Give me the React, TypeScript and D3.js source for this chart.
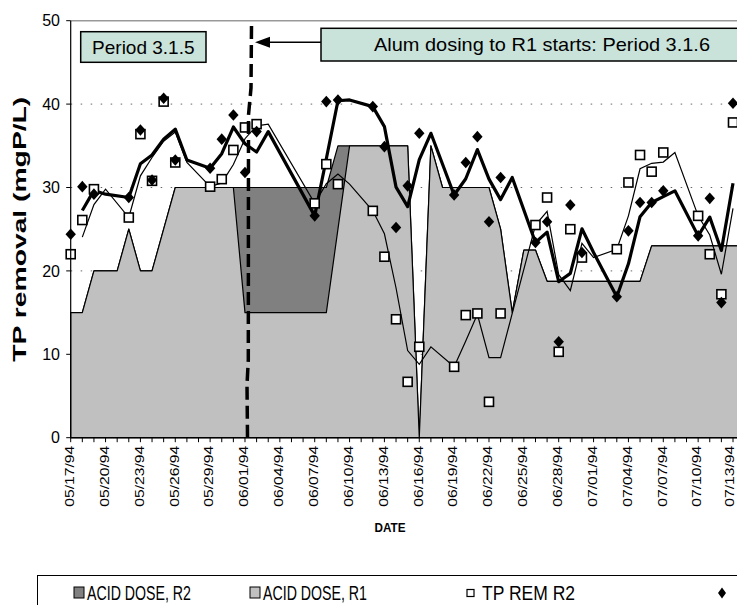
import React from 'react';
import * as d3 from 'd3';

const W = 737;
const H = 605;
const FONT = 'Liberation Sans, Arial, sans-serif';

// sampling days (1994)
const sampleDates = [
  '05/17', '05/18', '05/19', '05/22', '05/23', '05/24', '05/25', '05/26', '05/29', '05/30',
  '05/31', '06/01', '06/02', '06/07', '06/08', '06/09', '06/12', '06/13', '06/14', '06/15',
  '06/16', '06/19', '06/20', '06/21', '06/22', '06/23', '06/26', '06/27', '06/28', '06/29',
  '06/30', '07/03', '07/04', '07/05', '07/06', '07/07', '07/10', '07/11', '07/12', '07/13'
];
// TP REM R1 (diamonds)
const tpRemR1 = [
  24.4, 30.1, 29.2, 28.8, 36.9, 30.9, 40.7, 33.3, 32.3, 35.8,
  38.7, 31.8, 36.7, 26.6, 40.3, 40.5, 39.7, 34.9, 25.2, 30.2,
  36.5, 29.1, 33.0, 36.1, 25.9, 31.2, 23.4, 25.9, 11.5, 27.9,
  22.2, 16.9, 24.8, 28.2, 28.2, 29.6, 24.2, 28.7, 16.2, 40.1
];
// TP REM R2 (squares)
const tpRemR2 = [
  22.0, 26.1, 29.8, 26.4, 36.4, 30.8, 40.3, 33.0, 30.1, 31.0,
  34.5, 37.2, 37.6, 28.1, 32.8, 30.4, 27.2, 21.7, 14.2, 6.7,
  10.9, 8.5, 14.7, 14.9, 4.3, 14.9, 25.5, 28.8, 10.3, 25.0,
  21.6, 22.6, 30.6, 33.9, 31.9, 34.2, 26.6, 22.0, 17.2, 37.8
];

// 2-point average lines
const trendDates = [
  '05/18', '05/19', '05/20', '05/22', '05/23', '05/24', '05/25', '05/26', '05/27', '05/29',
  '05/30', '05/31', '06/01', '06/02', '06/03', '06/07', '06/08', '06/09', '06/10', '06/12',
  '06/13', '06/14', '06/15', '06/16', '06/17', '06/19', '06/20', '06/21', '06/22', '06/23',
  '06/24', '06/26', '06/27', '06/28', '06/29', '06/30', '07/01', '07/03', '07/04', '07/05',
  '07/06', '07/07', '07/08', '07/10', '07/11', '07/12', '07/13'
];
const trendR1 = [
  27.25, 29.65, 29.2, 28.8, 32.85, 33.9, 35.8, 37.0, 33.3, 32.3,
  34.05, 37.25, 35.25, 34.25, 36.7, 26.6, 33.45, 40.4, 40.5, 39.7,
  37.3, 30.05, 27.7, 33.35, 36.5, 29.1, 31.05, 34.55, 31.0, 28.55,
  31.2, 23.4, 24.65, 18.7, 19.7, 25.05, 22.2, 16.9, 20.85, 26.5,
  28.2, 28.9, 29.6, 24.2, 26.45, 22.45, 30.5
];
const trendR2 = [
  24.05, 27.95, 29.8, 26.4, 31.4, 33.6, 35.55, 36.65, 33.0, 30.1,
  30.55, 32.75, 35.85, 37.4, 37.6, 28.1, 30.45, 31.6, 30.4, 27.2,
  24.45, 17.95, 10.45, 8.8, 10.9, 8.5, 11.6, 14.8, 9.6, 9.6,
  14.9, 25.5, 27.15, 19.55, 17.65, 23.3, 21.6, 22.6, 26.6, 32.25,
  32.9, 33.05, 34.2, 26.6, 24.3, 19.6, 27.5
];

// acid dose, daily from 05/17 to 07/14
const acidR1 = [
  15, 15, 20, 20, 20, 25, 20, 20, 25, 30,
  30, 30, 30, 30, 30, 15, 15, 15, 15, 15,
  15, 15, 15, 25, 35, 35, 35, 35, 35, 35,
  0, 35, 30, 30, 30, 30, 30, 25, 15, 22.5,
  22.5, 18.75, 18.75, 18.75, 18.75, 18.75, 18.75, 18.75, 18.75, 18.75,
  23, 23, 23, 23, 23, 23, 23, 23, 23
];
const acidR2 = [
  15, 15, 20, 20, 20, 25, 20, 20, 25, 30,
  30, 30, 30, 30, 30, 30, 30, 30, 30, 30,
  30, 30, 30, 35, 35, 35, 35, 35, 35, 35,
  0, 35, 30, 30, 30, 30, 30, 25, 15, 22.5,
  22.5, 18.75, 18.75, 18.75, 18.75, 18.75, 18.75, 18.75, 18.75, 18.75,
  23, 23, 23, 23, 23, 23, 23, 23, 23
];

const tickLabels = [
  '05/17/94', '05/20/94', '05/23/94', '05/26/94', '05/29/94', '06/01/94', '06/04/94',
  '06/07/94', '06/10/94', '06/13/94', '06/16/94', '06/19/94', '06/22/94', '06/25/94',
  '06/28/94', '07/01/94', '07/04/94', '07/07/94', '07/10/94', '07/13/94'
];
const yTicks = [0, 10, 20, 30, 40, 50];

const parse = d3.timeParse('%m/%d/%y');
const day = (s: string) => parse(s.slice(0, 5) + '/94') as Date;

const x = d3.scaleTime().domain([day('05/17'), day('07/13')]).range([70.7, 733]);
const y = d3.scaleLinear().domain([0, 50]).range([437.7, 20.7]);

const acidDays = d3.timeDay.range(day('05/17'), d3.timeDay.offset(day('07/14'), 1));

export default function App() {
  const area = d3.area<number>()
    .x((d, i) => x(acidDays[i]))
    .y0(y(0))
    .y1(d => y(d));
  const line = d3.line<[string, number]>()
    .x(d => x(day(d[0])))
    .y(d => y(d[1]));

  const r1Trend = trendDates.map((d, i) => [d, trendR1[i]] as [string, number]);
  const r2Trend = trendDates.map((d, i) => [d, trendR2[i]] as [string, number]);
  const allDays = d3.timeDay.range(day('05/17'), day('07/15'));

  const x0 = x.range()[0];
  const yb = y(0);

  return (
    <svg width={W} height={H} style={{ position: 'absolute', left: 0, top: 0, background: '#fff' }}
      fontFamily={FONT}>
      {/* gridlines */}
      {yTicks.filter(t => t > 0 && t < 50).map(t => (
        <line key={t} x1={x0} x2={W} y1={y(t)} y2={y(t)} stroke="#666" strokeDasharray="1.5 8.5" />
      ))}
      <line x1={x0} x2={W} y1={y(50)} y2={y(50)} stroke="#999" strokeWidth={1.5} />

      {/* acid dose areas */}
      <path d={area(acidR2) || ''} fill="#808080" stroke="#000" strokeWidth={1.2} strokeLinejoin="round" />
      <path d={area(acidR1) || ''} fill="#c0c0c0" stroke="#000" strokeWidth={1.2} strokeLinejoin="round" />

      {/* averaged lines */}
      <path d={line(r2Trend) || ''} fill="none" stroke="#000" strokeWidth={1.2} />
      <path d={line(r1Trend) || ''} fill="none" stroke="#000" strokeWidth={3.2} strokeLinejoin="round" />

      {/* markers */}
      {sampleDates.map((d, i) => (
        <rect key={'s' + i} x={x(day(d)) - 4.5} y={y(tpRemR2[i]) - 4.5} width={9} height={9}
          fill="#fff" stroke="#000" strokeWidth={1.6} />
      ))}
      {sampleDates.map((d, i) => (
        <path key={'d' + i} transform={`translate(${x(day(d))},${y(tpRemR1[i])})`}
          d="M0,-5.8L5.2,0L0,5.8L-5.2,0Z" fill="#000" />
      ))}

      {/* axes */}
      <line x1={x0} x2={x0} y1={y(50)} y2={yb} stroke="#000" strokeWidth={1.2} />
      <line x1={x0} x2={W} y1={yb} y2={yb} stroke="#000" strokeWidth={1.2} />
      {yTicks.map(t => (
        <g key={t}>
          <line x1={x0 - 4.5} x2={x0} y1={y(t)} y2={y(t)} stroke="#000" />
          <text x={60} y={y(t)} dy="0.36em" textAnchor="end" fontSize={16}>{t}</text>
        </g>
      ))}
      {allDays.map((d, i) => (
        <line key={i} x1={x(d)} x2={x(d)} y1={yb} y2={yb + 4.5} stroke="#000" />
      ))}
      {tickLabels.map(t => (
        <text key={t} transform={`translate(${Math.min(x(day(t)) - 0.8, W - 7.5)},${yb + 8}) rotate(-90)`} dy="0.34em"
          textAnchor="end" fontSize={12} textLength={61} lengthAdjust="spacingAndGlyphs">{t}</text>
      ))}

      {/* axis titles */}
      <text transform={`translate(20,${(y(0) + y(50)) / 2}) rotate(-90)`} dy="0.36em" textAnchor="middle"
        fontSize={18} fontWeight="bold" textLength={265} lengthAdjust="spacingAndGlyphs">TP removal (mgP/L)</text>
      <text x={390} y={532} textAnchor="middle" fontSize={13} fontWeight="bold"
        textLength={31} lengthAdjust="spacingAndGlyphs">DATE</text>

      {/* annotations */}
      <path d="M251.5,26 L251,88 L248.5,115 L248.3,360 L247,385 L247.5,437" fill="none" stroke="#000"
        strokeWidth={3.5} strokeDasharray="13 6" />
      <rect x={80.7} y={31.7} width={125.3} height={30.6} fill="#cae3da" stroke="#000" strokeWidth={1.5} />
      <text x={143.3} y={53.5} textAnchor="middle" fontSize={19}>Period 3.1.5</text>
      <rect x={321} y={28.3} width={430} height={32.7} fill="#cae3da" stroke="#000" strokeWidth={1.5} />
      <text x={374} y={50.5} fontSize={19} textLength={336} lengthAdjust="spacingAndGlyphs">Alum dosing to R1 starts: Period 3.1.6</text>
      <line x1={321} x2={268} y1={42.3} y2={42.3} stroke="#000" strokeWidth={1.5} />
      <path d="M255,42.3 L270,36.8 L270,47.8 Z" fill="#000" />

      {/* legend */}
      <rect x={37.5} y={575.5} width={760} height={60} fill="#fff" stroke="#000" strokeWidth={1} />
      <rect x={74} y={587} width={10} height={11} fill="#808080" stroke="#000" />
      <text x={87} y={599.5} fontSize={20} textLength={104} lengthAdjust="spacingAndGlyphs">ACID DOSE, R2</text>
      <rect x={250} y={587} width={10} height={11} fill="#c0c0c0" stroke="#000" />
      <text x={263} y={599.5} fontSize={20} textLength={104} lengthAdjust="spacingAndGlyphs">ACID DOSE, R1</text>
      <rect x={467} y={589.5} width={7} height={7} fill="#fff" stroke="#000" strokeWidth={1.2} />
      <text x={482} y={599.5} fontSize={20} textLength={93} lengthAdjust="spacingAndGlyphs">TP REM R2</text>
      <path d="M722,587.5L726,593L722,598.5L718,593Z" fill="#000" />
    </svg>
  );
}
